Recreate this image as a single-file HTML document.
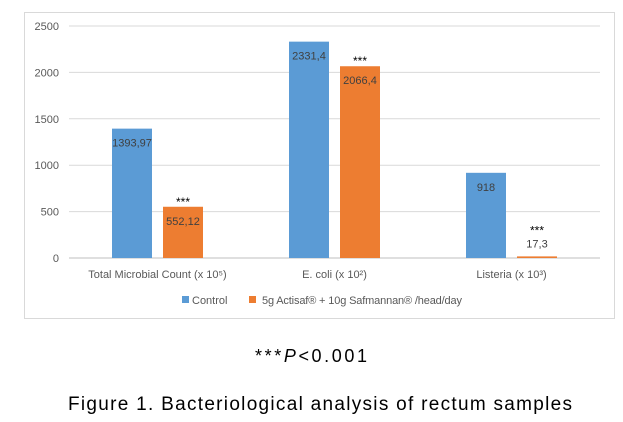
<!DOCTYPE html>
<html><head><meta charset="utf-8"><style>
body{margin:0;width:623px;height:417px;background:#fff;overflow:hidden;font-family:"Liberation Sans",sans-serif}
</style></head><body>
<svg id="chart" width="623" height="417" font-family="Liberation Sans, sans-serif">
<rect x="24.5" y="12.5" width="590" height="306" fill="#fff" stroke="#d9d9d9"/>
<g id="grid"></g><g id="bars"></g><g id="labels"></g>
<g>
<rect x="182" y="296" width="7" height="7" fill="#5b9bd5"/>
<text x="192" y="304" font-size="11" fill="#595959">Control</text>
<rect x="249" y="296" width="7" height="7" fill="#ed7d31"/>
<text x="262" y="304" font-size="11" fill="#595959" textLength="200">5g Actisaf® + 10g Safmannan® /head/day</text>
</g>
<text x="311" y="362" font-size="18" text-anchor="middle" fill="#000" textLength="112">***<tspan font-style="italic">P</tspan>&lt;0.001</text>
<text x="320" y="410" font-size="19" text-anchor="middle" fill="#000" textLength="504">Figure 1. Bacteriological analysis of rectum samples</text>
</svg>
<script>
const categories=["Total Microbial Count (x 10⁵)","E. coli (x 10²)","Listeria (x 10³)"];
const controlValues=[1393.97,2331.4,918];
const treatmentValues=[552.12,2066.4,17.3];
const valueLabelsControl=["1393,97","2331,4","918"];
const valueLabelsTreatment=["552,12","2066,4","17,3"];
const yTicks=[0,500,1000,1500,2000,2500];
const NS="http://www.w3.org/2000/svg";
const x0=69,x1=600,yTop=26,yBot=258,yMax=2500;
const y=v=>yBot-(v/yMax)*(yBot-yTop);
const bw=(x1-x0)/categories.length;
function mk(t,a,p,txt){const e=document.createElementNS(NS,t);for(const k in a)e.setAttribute(k,a[k]);if(txt!=null)e.textContent=txt;p.appendChild(e);return e;}
const grid=document.getElementById('grid'),bars=document.getElementById('bars'),labels=document.getElementById('labels');
yTicks.forEach(t=>{
 const l=mk('line',{x1:x0,x2:x1,y1:y(t),y2:y(t),stroke:t===0?'#bfbfbf':'#d9d9d9','stroke-width':1},grid);
 
 
 const tx=mk('text',{x:59,y:y(t)+4,'font-size':11,'text-anchor':'end',fill:'#595959'},grid,String(t));
 
 
});
categories.forEach((c,i)=>{
 const cx=x0+bw*(i+0.5);
 const bx1=cx-45.5,bx2=cx+5.5,w=40;
 const b1=mk('rect',{x:bx1,y:y(controlValues[i]),width:w,height:yBot-y(controlValues[i]),fill:'#5b9bd5'},bars);
 
 
 const b2=mk('rect',{x:bx2,y:y(treatmentValues[i]),width:w,height:Math.max(1,yBot-y(treatmentValues[i])),fill:'#ed7d31'},bars);
 
 
 const l1=mk('text',{x:bx1+w/2,y:y(controlValues[i])+18,'font-size':11,'text-anchor':'middle',fill:'#404040'},labels,valueLabelsControl[i]);
 
 
 const inside=yBot-y(treatmentValues[i])>30;
 const ly=inside?y(treatmentValues[i])+18:y(treatmentValues[i])-9;
 const l2=mk('text',{x:bx2+w/2,y:ly,'font-size':11,'text-anchor':'middle',fill:'#404040'},labels,valueLabelsTreatment[i]);
 
 
 const st=mk('text',{x:bx2+w/2,y:(inside?y(treatmentValues[i]):ly-12)-1,'font-size':12,'text-anchor':'middle',fill:'#000'},labels,'***');
 
 
 const cl=mk('text',{x:cx,y:278,'font-size':11,'text-anchor':'middle',fill:'#595959'},labels,c);
 
 
});
</script>
</body></html>
